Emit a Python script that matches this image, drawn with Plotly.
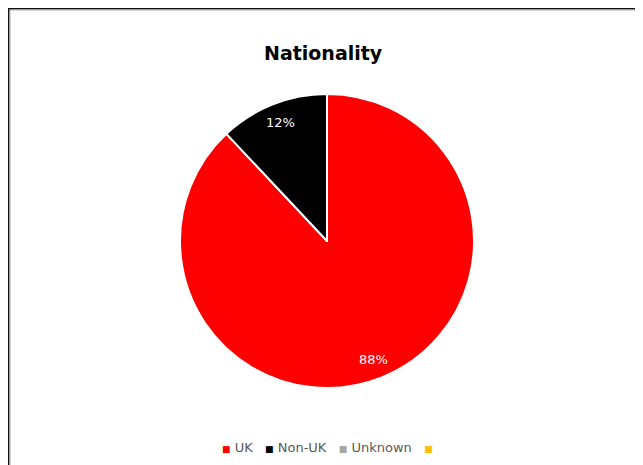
import math
import plotly.graph_objects as go

categories = ["UK", "Non-UK", "Unknown", " "]
values = [88, 12, 0, 0]
colors = ["#FF0000", "#000000", "#A5A5A5", "#FFC000"]
title_text = "Nationality"

OFF = 8  # page body margin offset
W, H = 643 - OFF, 465 - OFF
cx, cy, r = 327, 241, 147  # pie centre / radius in screen px

def px(x):
    return (x - OFF) / W

def py(y):
    return 1 - (y - OFF) / H

fig = go.Figure()
fig.add_trace(go.Pie(
    labels=categories,
    values=values,
    marker=dict(colors=colors, line=dict(color="white", width=2)),
    sort=False,
    direction="clockwise",
    rotation=0,
    textinfo="none",
    hoverinfo="label+percent",
    showlegend=False,
    domain=dict(x=[px(cx - r), px(cx + r)], y=[py(cy + r), py(cy - r)]),
))

# data labels along each slice's mid angle (computed from the values)
total = sum(values)
cum = 0
annotations = []
for lab, v in zip(categories, values):
    if v > 0:
        mid = (cum + v / 2) / total * 2 * math.pi
        lx = cx + 0.865 * r * math.sin(mid)
        ly = cy - 0.865 * r * math.cos(mid)
        annotations.append(dict(
            x=px(lx), y=py(ly), xref="paper", yref="paper",
            text=f"{round(v / total * 100)}%", showarrow=False,
            font=dict(family="DejaVu Sans", size=13, color="white"),
            xanchor="center", yanchor="middle"))
    cum += v

# legend row
parts = []
for lab, col in zip(categories, colors):
    parts.append(f"<span style='color:{col};font-size:9px'>■</span> {lab}")
legend_text = "\u00a0\u00a0\u00a0".join(parts)
annotations.append(dict(
    x=px(331), y=py(447), xref="paper", yref="paper",
    text=legend_text, showarrow=False,
    font=dict(family="DejaVu Sans", size=13, color="#595959"),
    xanchor="center", yanchor="middle"))

annotations.append(dict(
    x=px(323), y=py(53), xref="paper", yref="paper",
    text=f"<b>{title_text}</b>", showarrow=False,
    font=dict(family="DejaVu Sans", size=19, color="#000000"),
    xanchor="center", yanchor="middle"))

fig.update_layout(
    width=W, height=H,
    margin=dict(l=0, r=0, t=0, b=0),
    paper_bgcolor="white",
    plot_bgcolor="white",
    annotations=annotations,
    shapes=[
        dict(type="line", xref="paper", yref="paper", x0=px(8), x1=px(660), y0=py(8.5), y1=py(8.5),
             line=dict(color="#111111", width=2)),
        dict(type="line", xref="paper", yref="paper", x0=px(8.5), x1=px(8.5), y0=py(8), y1=py(490),
             line=dict(color="#111111", width=2)),
        dict(type="line", xref="paper", yref="paper", x0=px(10), x1=px(660), y0=py(10), y1=py(10),
             line=dict(color="#AAAAAA", width=1)),
        dict(type="line", xref="paper", yref="paper", x0=px(10), x1=px(10), y0=py(10), y1=py(490),
             line=dict(color="#AAAAAA", width=1)),
    ],
)

fig.write_html("out.html")
